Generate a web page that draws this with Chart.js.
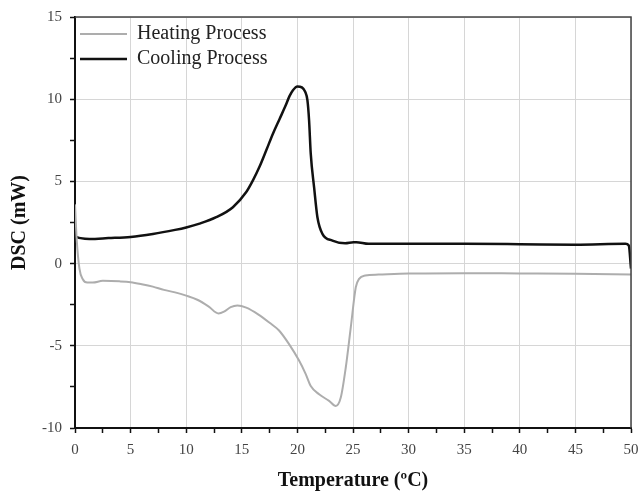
<!DOCTYPE html>
<html>
<head>
<meta charset="utf-8">
<script src="https://cdn.jsdelivr.net/npm/chart.js@4/dist/chart.umd.min.js"></script>
<style>
  html, body { margin: 0; padding: 0; background: #fff; }
  #wrap { width: 639px; height: 493px; }
</style>
</head>
<body>
<div id="wrap"><canvas id="dscChart" width="639" height="493"></canvas></div>
<script>
// heating curve (temperature in degC, DSC in mW)
const heatingT = [0, 0.15, 0.4, 0.7, 1.1, 1.6, 2.5, 4, 5, 6, 7, 8, 9, 10, 11, 12, 12.9, 13.4, 14, 14.6, 15.4, 16.5, 17.5, 18.35, 19.25, 20.15, 20.75, 21.2, 21.95, 22.85, 23.45, 23.9, 24.35, 24.8, 25.25, 25.55, 26.1, 27.3, 30, 35, 40, 45, 50];
const heatingDSC = [3.6, 1.5, -0.3, -0.95, -1.15, -1.15, -1.05, -1.08, -1.13, -1.25, -1.4, -1.6, -1.75, -1.95, -2.2, -2.6, -3.03, -2.92, -2.65, -2.55, -2.68, -3.1, -3.6, -4.07, -4.9, -5.9, -6.72, -7.44, -7.95, -8.35, -8.66, -8.15, -6.32, -3.88, -1.44, -0.93, -0.73, -0.67, -0.6, -0.58, -0.6, -0.62, -0.67];

// cooling curve
const coolingT = [0, 0.5, 1.3, 3, 5, 7, 9, 10, 11.2, 12.7, 14.2, 15.4, 16, 16.6, 17.2, 17.8, 18.4, 18.9, 19.3, 19.6, 20, 20.4, 20.7, 20.9, 21.05, 21.2, 21.5, 21.8, 22.25, 23.15, 24.3, 25.05, 25.3, 26.4, 30, 35, 40, 45, 49.5, 49.8, 50];
const coolingDSC = [1.65, 1.55, 1.5, 1.55, 1.62, 1.8, 2.05, 2.2, 2.43, 2.82, 3.43, 4.35, 5.06, 5.9, 6.89, 7.9, 8.8, 9.55, 10.2, 10.55, 10.78, 10.72, 10.45, 9.94, 8.72, 6.69, 4.65, 2.82, 1.81, 1.4, 1.24, 1.3, 1.3, 1.2, 1.2, 1.2, 1.18, 1.15, 1.2, 1.1, -0.3];

const seriesNames = ['Heating Process', 'Cooling Process'];
const xTicks = [0, 5, 10, 15, 20, 25, 30, 35, 40, 45, 50];
const yTicks = [-10, -5, 0, 5, 10, 15];

const toPoints = (xs, ys) => xs.map((x, i) => ({ x: x, y: ys[i] }));

const serif = 'Liberation Serif, Times New Roman, serif';

// top and right frame lines
const frame = {
  id: 'frame',
  afterDatasetsDraw(chart) {
    const a = chart.chartArea;
    const ctx = chart.ctx;
    ctx.save();
    ctx.strokeStyle = '#444';
    ctx.lineWidth = 1.5;
    ctx.beginPath();
    ctx.moveTo(a.left, a.top);
    ctx.lineTo(a.right, a.top);
    ctx.lineTo(a.right, a.bottom);
    ctx.stroke();
    ctx.restore();
  }
};

const majorGrid = (values) => (ctx) =>
  ctx.tick && values.includes(ctx.tick.value) ? '#d6d6d6' : 'rgba(0,0,0,0)';

const ctxDsc = document.getElementById('dscChart').getContext('2d');
const dscChart = new Chart(ctxDsc, {
  type: 'line',
  data: {
    datasets: [{
      label: seriesNames[0],
      data: toPoints(heatingT, heatingDSC),
      borderColor: '#adadad',
      backgroundColor: '#adadad',
      borderWidth: 2,
      pointRadius: 0,
      cubicInterpolationMode: 'monotone'
    }, {
      label: seriesNames[1],
      data: toPoints(coolingT, coolingDSC),
      borderColor: '#111',
      backgroundColor: '#111',
      borderWidth: 2.5,
      pointRadius: 0,
      cubicInterpolationMode: 'monotone'
    }]
  },
  plugins: [frame],
  options: {
    responsive: false,
    animation: false,
    layout: { padding: { left: 0, right: 8, top: 17, bottom: 0 } },
    plugins: {
      legend: {
        position: 'chartArea',
        align: 'start',
        title: {
          display: true,
          text: ' ',
          font: { size: 10 },
          padding: { top: 0, bottom: 7 }
        },
        labels: {
          usePointStyle: true,
          pointStyle: 'line',
          pointStyleWidth: 47,
          padding: 5,
          color: '#222',
          font: { family: serif, size: 20 }
        }
      },
      tooltip: { enabled: false }
    },
    scales: {
      x: {
        type: 'linear',
        min: 0,
        max: 50,
        ticks: {
          stepSize: 2.5,
          autoSkip: false,
          maxRotation: 0,
          padding: 8,
          color: '#444',
          font: { family: serif, size: 15 },
          callback: (v) => xTicks.includes(v) ? v : ''
        },
        grid: {
          color: majorGrid(xTicks),
          tickColor: '#111',
          tickLength: 5,
          tickWidth: 1.5
        },
        border: { color: '#111', width: 2 },
        title: {
          display: true,
          text: 'Temperature (ºC)',
          color: '#111',
          font: { family: serif, size: 20, weight: 'bold' },
          padding: { top: 1, bottom: 0 }
        },
        afterFit: (scale) => {
          scale.height = 65;
          scale.paddingRight = 4;
          scale.paddingLeft = 0;
        }
      },
      y: {
        min: -10,
        max: 15,
        ticks: {
          stepSize: 2.5,
          autoSkip: false,
          padding: 8,
          color: '#444',
          font: { family: serif, size: 15 },
          callback: (v) => yTicks.includes(v) ? v : ''
        },
        grid: {
          color: majorGrid(yTicks),
          tickColor: '#111',
          tickLength: 5,
          tickWidth: 1.5
        },
        border: { color: '#111', width: 2 },
        title: {
          display: true,
          text: 'DSC (mW)',
          color: '#111',
          font: { family: serif, size: 20, weight: 'bold' },
          padding: { top: 8, bottom: 4 }
        },
        afterFit: (scale) => { scale.width = 75; }
      }
    }
  }
});
</script>
</body>
</html>
